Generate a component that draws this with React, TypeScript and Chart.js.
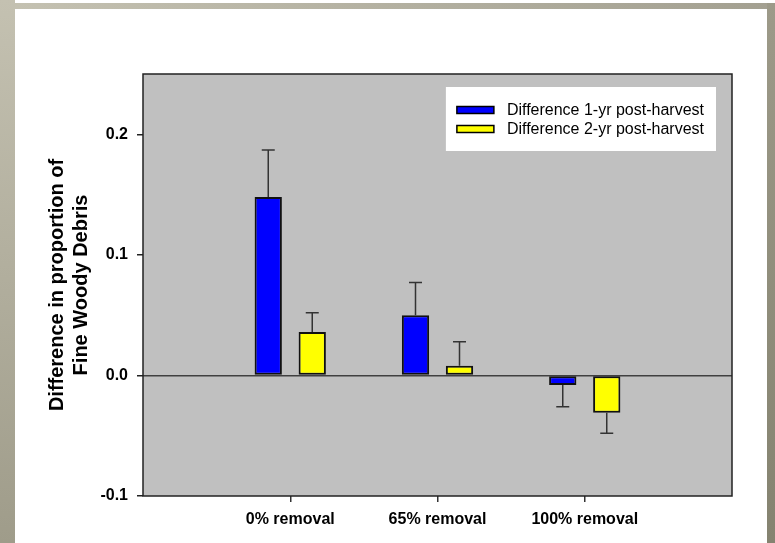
import React, { useEffect, useRef } from "react";
import { Chart, registerables } from "chart.js";

Chart.register(...registerables);

// Treatment groups along the x axis
const categories = ["0% removal", "65% removal", "100% removal"];

// Series names and mean differences
const seriesNames = ["Difference 1-yr post-harvest", "Difference 2-yr post-harvest"];
const oneYearDiff = [0.148, 0.05, -0.008];
const twoYearDiff = [0.036, 0.008, -0.031];

// Standard errors (drawn away from zero)
const oneYearErr = [0.039, 0.027, 0.018];
const twoYearErr = [0.016, 0.02, 0.017];

// Y axis
const yTicks = [-0.1, 0.0, 0.1, 0.2];
const yMin = -0.1;
const yMax = 0.25;
const yTitle = ["Difference in proportion of", "Fine Woody Debris"];

const FONT = "'Liberation Sans', Arial, Helvetica, sans-serif";
const seriesColors = ["#0000ff", "#ffff00"];

// Pad the category list with empty slots so the groups sit at 1/4, 2/4, 3/4 of the width
const paddedLabels = ["", ...categories, ""];
const pad = (arr: number[]) => [null, ...arr, null];

const plotPlugin = {
  id: "plotPanel",
  beforeDraw(chart: any) {
    const { ctx, chartArea: a } = chart;
    ctx.save();
    ctx.fillStyle = "#c0c0c0";
    ctx.fillRect(a.left, a.top, a.right - a.left, a.bottom - a.top);
    ctx.restore();
  },
  afterDatasetsDraw(chart: any) {
    const { ctx } = chart;
    const yScale = chart.scales.y;
    const errs = [oneYearErr, twoYearErr];
    ctx.save();
    ctx.strokeStyle = "#333333";
    ctx.lineWidth = 1.5;
    chart.data.datasets.forEach((ds: any, di: number) => {
      const meta = chart.getDatasetMeta(di);
      meta.data.forEach((el: any, i: number) => {
        const v = ds.data[i];
        if (v === null || v === undefined) return;
        const err = errs[di][i - 1];
        const end = v >= 0 ? v + err : v - err;
        const yEnd = yScale.getPixelForValue(end);
        const x = el.x;
        ctx.beginPath();
        ctx.moveTo(x, el.y);
        ctx.lineTo(x, yEnd);
        ctx.moveTo(x - 6.5, yEnd);
        ctx.lineTo(x + 6.5, yEnd);
        ctx.stroke();
      });
    });
    ctx.restore();
  },
  afterDraw(chart: any) {
    const { ctx, chartArea: a } = chart;
    ctx.save();
    // panel frame
    ctx.strokeStyle = "#222222";
    ctx.lineWidth = 1.5;
    ctx.strokeRect(a.left, a.top, a.right - a.left, a.bottom - a.top);

    // boxed legend in the upper right of the panel
    ctx.font = `16px ${FONT}`;
    const labels = chart.data.datasets.map((d: any) => d.label as string);
    const textW = Math.max(...labels.map((l: string) => ctx.measureText(l).width));
    const right = a.right - 16;
    const top = a.top + 13;
    const w = 61 + textW + 12;
    const h = 64;
    const left = right - w;
    ctx.fillStyle = "#ffffff";
    ctx.fillRect(left, top, w, h);
    chart.data.datasets.forEach((d: any, i: number) => {
      const cy = top + 23 + i * 19;
      ctx.fillStyle = d.backgroundColor;
      ctx.fillRect(left + 11, cy - 3.5, 37, 7);
      ctx.strokeStyle = "#000000";
      ctx.lineWidth = 1.5;
      ctx.strokeRect(left + 11, cy - 3.5, 37, 7);
      ctx.fillStyle = "#000000";
      ctx.textBaseline = "middle";
      ctx.textAlign = "left";
      ctx.fillText(d.label, left + 61, cy + 0.5);
    });
    ctx.restore();
  },
};

function ChartCanvas() {
  const ref = useRef<HTMLCanvasElement | null>(null);

  useEffect(() => {
    if (!ref.current) return;
    const chart = new Chart(ref.current, {
      type: "bar",
      data: {
        labels: paddedLabels,
        datasets: [
          {
            label: seriesNames[0],
            data: pad(oneYearDiff) as any,
            backgroundColor: seriesColors[0],
            borderColor: "#111111",
            borderWidth: 2,
            borderSkipped: false,
            categoryPercentage: 0.5976,
            barPercentage: 0.62,
          },
          {
            label: seriesNames[1],
            data: pad(twoYearDiff) as any,
            backgroundColor: seriesColors[1],
            borderColor: "#111111",
            borderWidth: 2,
            borderSkipped: false,
            categoryPercentage: 0.5976,
            barPercentage: 0.62,
          },
        ],
      },
      options: {
        responsive: false,
        animation: false,
        devicePixelRatio: 1,
        layout: { padding: { left: 0, top: 74, right: 43, bottom: 0 } },
        plugins: {
          legend: { display: false },
          tooltip: { enabled: false },
        },
        scales: {
          x: {
            type: "category",
            offset: false,
            afterFit: (s: any) => {
              s.height = 47;
            },
            grid: {
              offset: false,
              drawOnChartArea: false,
              tickLength: 6,
              lineWidth: 1.5,
              tickColor: (c: any) =>
                c.index === 0 || c.index === paddedLabels.length - 1 ? "rgba(0,0,0,0)" : "#333333",
            },
            border: { display: false },
            ticks: {
              color: "#000000",
              padding: 8,
              maxRotation: 0,
              autoSkip: false,
              font: { family: FONT, size: 16, weight: "bold" },
            },
          },
          y: {
            type: "linear",
            min: yMin,
            max: yMax,
            afterFit: (s: any) => {
              s.width = 143;
            },
            afterBuildTicks: (s: any) => {
              s.ticks = yTicks.map((v) => ({ value: v }));
            },
            grid: {
              drawTicks: true,
              tickLength: 6,
              lineWidth: 1.5,
              tickColor: "#222222",
              color: (c: any) => (c.tick && c.tick.value === 0 ? "#404040" : "rgba(0,0,0,0)"),
            },
            border: { display: false },
            ticks: {
              color: "#000000",
              padding: 9,
              font: { family: FONT, size: 16, weight: "bold" },
              callback: (v: any) => Number(v).toFixed(1),
            },
            title: {
              display: true,
              text: yTitle,
              color: "#000000",
              padding: { top: 45, bottom: 0 },
              font: { family: FONT, size: 20, weight: "bold", lineHeight: 1.2 },
            },
          },
        },
      },
      plugins: [plotPlugin],
    });
    return () => chart.destroy();
  }, []);

  return (
    <canvas
      ref={ref}
      width={775}
      height={543}
      style={{ position: "absolute", left: 0, top: 0, width: 775, height: 543 }}
    />
  );
}

export default function App() {
  return (
    <div
      style={{
        position: "fixed",
        left: 0,
        top: 0,
        width: 775,
        height: 543,
        background: "#ffffff",
        overflow: "hidden",
      }}
    >
      <div
        style={{
          position: "absolute",
          left: 0,
          top: 0,
          width: 15,
          height: 543,
          background: "linear-gradient(to bottom, #c4c1b1, #9f9c8a)",
        }}
      />
      <div
        style={{
          position: "absolute",
          left: 15,
          top: 3,
          width: 760,
          height: 6,
          background: "linear-gradient(to right, #c4c1b1, #a3a091)",
        }}
      />
      <div
        style={{
          position: "absolute",
          left: 767,
          top: 3,
          width: 8,
          height: 540,
          background: "linear-gradient(to bottom, #9d9a89, #858370)",
        }}
      />
      <ChartCanvas />
    </div>
  );
}
